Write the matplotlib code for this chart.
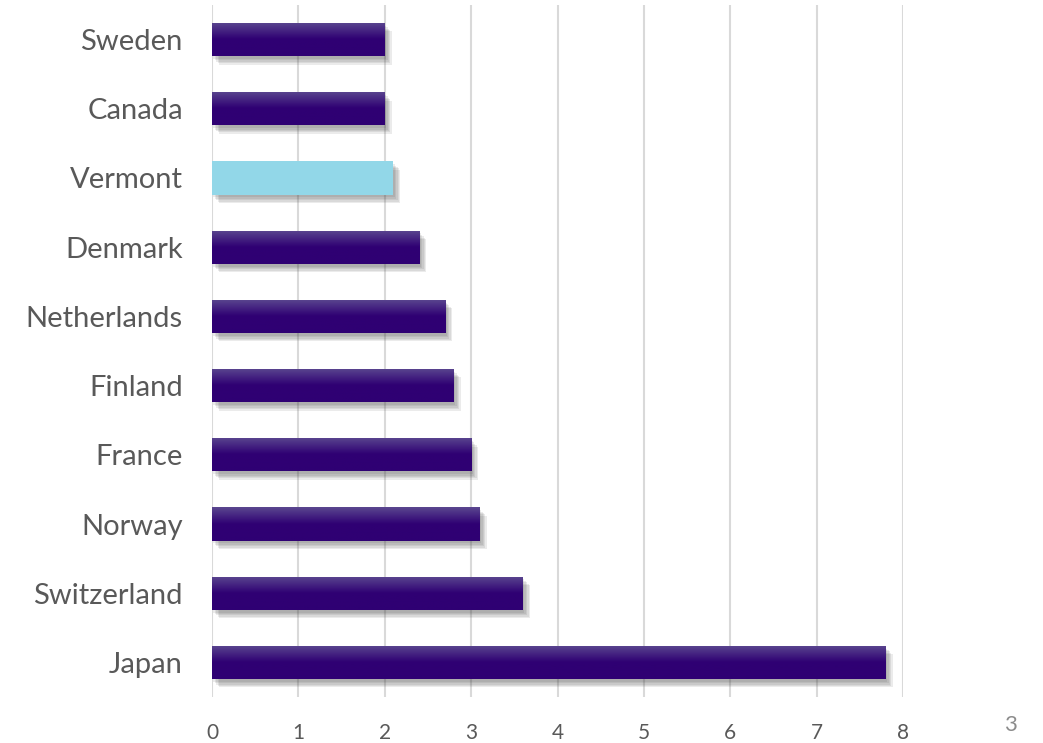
import numpy as np
import matplotlib.pyplot as plt
import matplotlib.patheffects as pe
from matplotlib.colors import LinearSegmentedColormap

plt.rcParams['font.family'] = ['Lato', 'DejaVu Sans']

# data, bottom to top as drawn
countries = ['Japan', 'Switzerland', 'Norway', 'France', 'Finland',
             'Netherlands', 'Denmark', 'Vermont', 'Canada', 'Sweden']
values = [7.8, 3.6, 3.1, 3.0, 2.8, 2.7, 2.4, 2.1, 2.0, 2.0]
highlight = 'Vermont'

dark = '#2f0073'
light_blue = '#92d7e8'

fig = plt.figure(figsize=(10.43, 7.43), dpi=100)
ax = fig.add_axes([0.2033, 0.0619, 0.6625, 0.9314])

y = np.arange(len(countries))
colors = [light_blue if c == highlight else dark for c in countries]
bars = ax.barh(y, values, height=0.48, color=colors, zorder=3)

# soft drop shadow built from a few faint offset copies
shadow = [pe.SimplePatchShadow(offset=(k, -k - 1), shadow_rgbFace='#404040', alpha=0.10)
          for k in (1, 2, 3, 4, 5)] + [pe.Normal()]
grad = LinearSegmentedColormap.from_list('g', ['#5a468f', dark, dark])
for b, c in zip(bars, countries):
    b.set_path_effects(shadow)
    if c == highlight:
        continue
    x0, y0, w, h = b.get_x(), b.get_y(), b.get_width(), b.get_height()
    img = np.linspace(0, 1, 50).reshape(-1, 1)
    im = ax.imshow(img, cmap=grad, aspect='auto', origin='upper',
                   extent=(x0, x0 + w, y0, y0 + h), zorder=4)
    im.set_clip_path(b)

ax.set_xlim(0, 8)
ax.set_ylim(-0.5, len(countries) - 0.5)
ax.set_xticks(range(0, 9))
ax.set_yticks(y)
ax.set_yticklabels(countries)
ax.grid(axis='x', color='#d9d9d9', linewidth=1.5, zorder=0)
ax.set_axisbelow(True)
for s in ax.spines.values():
    s.set_visible(False)
ax.tick_params(axis='y', length=0, labelsize=21, labelcolor='#595959', pad=21)
ax.tick_params(axis='x', length=0, labelsize=15, labelcolor='#595959', pad=19)

fig.text(1010 / 1043, 1 - 725 / 743, '3', fontsize=16, color='#8c8c8c',
         ha='center', va='center')

fig.savefig('out.png', dpi=100)
